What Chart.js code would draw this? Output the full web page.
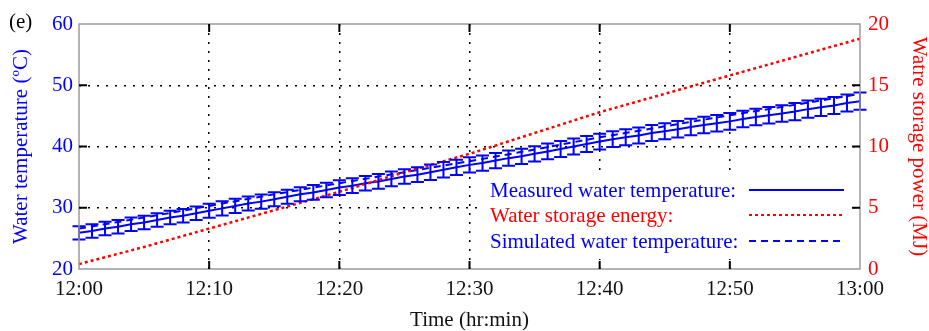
<!DOCTYPE html>
<html>
<head>
<meta charset="utf-8">
<script src="https://cdn.jsdelivr.net/npm/chart.js@4.4.1/dist/chart.umd.min.js"></script>
<style>
  html, body { margin: 0; padding: 0; background: #fff; }
  #wrap { width: 929px; height: 331px; position: relative; }
</style>
</head>
<body>
<div id="wrap"><canvas id="chart1"></canvas></div>
<script>
// minutes after 12:00
const minutes = [0,1,2,3,4,5,6,7,8,9,10,11,12,13,14,15,16,17,18,19,20,21,22,23,24,25,26,27,28,29,30,
  31,32,33,34,35,36,37,38,39,40,41,42,43,44,45,46,47,48,49,50,51,52,53,54,55,56,57,58,59,60];

const measuredTemp = [25.9,26.2,26.6,26.9,27.3,27.6,28.0,28.4,28.7,29.1,29.5,
  29.9,30.3,30.7,31.0,31.4,31.8,32.2,32.5,32.9,33.3,
  33.6,34.0,34.3,34.7,35.1,35.4,35.8,36.2,36.6,37.0,
  37.3,37.7,38.1,38.4,38.8,39.2,39.6,40.0,40.4,40.8,
  41.2,41.5,41.8,42.2,42.5,42.8,43.2,43.5,43.8,44.1,
  44.5,44.8,45.1,45.4,45.7,46.1,46.4,46.7,47.1,47.4];

const measuredErr = [1.1,1.1,1.1,1.1,1.1,1.1,1.1,1.1,1.1,1.1,1.15,
  1.15,1.15,1.15,1.15,1.15,1.15,1.15,1.2,1.2,1.2,
  1.2,1.2,1.2,1.2,1.2,1.2,1.25,1.25,1.25,1.25,
  1.25,1.25,1.25,1.25,1.25,1.3,1.3,1.3,1.3,1.3,
  1.3,1.3,1.3,1.3,1.3,1.35,1.35,1.35,1.35,1.35,
  1.35,1.35,1.35,1.35,1.4,1.4,1.4,1.4,1.4,1.4];

const simMinutes = [0,5,10,15,20,25,30,35,40,45,50,55,60];
const simulatedTemp = [26.6,28.4,30.3,32.2,34.0,35.8,37.6,39.5,41.5,43.3,45.1,46.8,48.6];

const energyMinutes = [0,5,10,15,20,25,30,35,40,45,47,50,55,60];
const storageEnergy = [0.4,1.8,3.3,4.8,6.3,7.9,9.4,11.1,12.8,14.3,14.9,15.8,17.3,18.8];

const xTickLabels = ['12:00','12:10','12:20','12:30','12:40','12:50','13:00'];

const legendItems = [
  { text: 'Measured water temperature:', color: '#0000ff', dash: [] },
  { text: 'Water storage energy:', color: '#ff0000', dash: [3, 3] },
  { text: 'Simulated water temperature:', color: '#0000ff', dash: [7, 5] }
];

const BLUE = '#0000ff';
const RED = '#ff0000';
const FONT = "'Liberation Serif', 'Times New Roman', serif";

const pair = (xs, ys) => xs.map((x, i) => ({ x: x, y: ys[i] }));

const edgeColor = (lo, hi) => (c) =>
  (c.tick && (c.tick.value === lo || c.tick.value === hi)) ? 'rgba(0,0,0,0)' : '#000';

// legend box, error bars, frame, inward ticks, legend, panel tag
const decor = {
  id: 'decor',
  beforeDatasetsDraw(chart) {
    // white legend box hides the grid behind it
    const ctx = chart.ctx;
    ctx.save();
    ctx.fillStyle = '#fff';
    ctx.fillRect(484, 176, 366, 83);
    ctx.restore();
  },
  afterDatasetsDraw(chart) {
    const ctx = chart.ctx;
    const x = chart.scales.x, y = chart.scales.y, y2 = chart.scales.y2;
    const a = chart.chartArea;

    // error bars
    ctx.save();
    ctx.strokeStyle = BLUE;
    ctx.lineWidth = 2;
    minutes.forEach((m, i) => {
      const px = x.getPixelForValue(m);
      const top = y.getPixelForValue(measuredTemp[i] + measuredErr[i]);
      const bot = y.getPixelForValue(measuredTemp[i] - measuredErr[i]);
      const cap = 6.5;
      ctx.beginPath();
      ctx.moveTo(px, top); ctx.lineTo(px, bot);
      ctx.moveTo(px - cap, top); ctx.lineTo(px + cap, top);
      ctx.moveTo(px - cap, bot); ctx.lineTo(px + cap, bot);
      ctx.stroke();
    });
    ctx.restore();

    // frame
    ctx.save();
    ctx.strokeStyle = '#9a9a9a';
    ctx.lineWidth = 1.5;
    ctx.strokeRect(a.left, a.top, a.right - a.left, a.bottom - a.top);

    // inward tick marks
    ctx.strokeStyle = '#000';
    ctx.lineWidth = 2;
    const tl = 8;
    ctx.beginPath();
    x.ticks.forEach(t => {
      if (t.value === 0 || t.value === 60) return;
      const px = x.getPixelForValue(t.value);
      ctx.moveTo(px, a.bottom); ctx.lineTo(px, a.bottom - tl);
      ctx.moveTo(px, a.top); ctx.lineTo(px, a.top + tl);
    });
    y.ticks.forEach(t => {
      if (t.value === 20 || t.value === 60) return;
      const py = y.getPixelForValue(t.value);
      ctx.moveTo(a.left, py); ctx.lineTo(a.left + tl, py);
    });
    y2.ticks.forEach(t => {
      if (t.value === 0 || t.value === 20) return;
      const py = y2.getPixelForValue(t.value);
      ctx.moveTo(a.right, py); ctx.lineTo(a.right - tl, py);
    });
    ctx.stroke();
    ctx.restore();

    // legend
    ctx.save();
    ctx.font = '21px ' + FONT;
    ctx.textBaseline = 'middle';
    const rows = [191, 216, 242];
    legendItems.forEach((item, i) => {
      ctx.fillStyle = item.color;
      ctx.textAlign = 'left';
      ctx.fillText(item.text, 490, rows[i]);
      ctx.strokeStyle = item.color;
      ctx.lineWidth = 2;
      ctx.setLineDash(item.dash);
      ctx.beginPath();
      ctx.moveTo(749, rows[i] - 1);
      ctx.lineTo(844, rows[i] - 1);
      ctx.stroke();
    });
    ctx.setLineDash([]);

    // panel tag
    ctx.fillStyle = '#000';
    ctx.font = '21px ' + FONT;
    ctx.fillText('(e)', 9, 22);
    ctx.restore();
  }
};

const CHART_1 = document.getElementById('chart1');

const config1 = {
  type: 'line',
  data: {
    datasets: [
      {
        label: 'Water storage energy',
        data: pair(energyMinutes, storageEnergy),
        yAxisID: 'y2',
        borderColor: RED,
        borderWidth: 2.5,
        borderDash: [3, 3],
        pointRadius: 0,
        tension: 0,
        clip: false
      },
      {
        label: 'Simulated water temperature',
        data: pair(simMinutes, simulatedTemp),
        yAxisID: 'y',
        borderColor: BLUE,
        borderWidth: 2,
        borderDash: [7, 5],
        pointRadius: 0,
        tension: 0
      },
      {
        label: 'Measured water temperature',
        data: pair(minutes, measuredTemp),
        yAxisID: 'y',
        borderColor: BLUE,
        borderWidth: 2,
        pointRadius: 0,
        tension: 0
      }
    ]
  },
  options: {
    responsive: true,
    maintainAspectRatio: false,
    animation: false,
    layout: { padding: { top: 24, left: 0, right: 0, bottom: 0 } },
    plugins: {
      legend: { display: false },
      tooltip: { enabled: false }
    },
    scales: {
      x: {
        type: 'linear',
        min: 0,
        max: 60,
        afterFit: (s) => { s.height = 62; },
        ticks: {
          stepSize: 10,
          color: '#111',
          font: { family: FONT, size: 21 },
          padding: 8,
          maxRotation: 0,
          callback: (v) => xTickLabels[v / 10]
        },
        grid: { color: edgeColor(0, 60), lineWidth: 1.5, drawTicks: false },
        border: { display: false, dash: [2, 7] },
        title: {
          display: true,
          text: 'Time (hr:min)',
          color: '#111',
          font: { family: FONT, size: 21, lineHeight: 1 },
          padding: { top: 0, bottom: 0 }
        }
      },
      y: {
        position: 'left',
        min: 20,
        max: 60,
        afterFit: (s) => { s.width = 79; },
        ticks: {
          stepSize: 10,
          color: BLUE,
          font: { family: FONT, size: 21 },
          padding: 6
        },
        grid: { color: edgeColor(20, 60), lineWidth: 1.5, drawTicks: false },
        border: { display: false, dash: [2, 7] },
        title: {
          display: true,
          text: 'Water temperature (ºC)',
          color: BLUE,
          font: { family: FONT, size: 21, lineHeight: 1 },
          padding: { top: 11, bottom: 0 }
        }
      },
      y2: {
        position: 'right',
        min: 0,
        max: 20,
        afterFit: (s) => { s.width = 69; },
        ticks: {
          stepSize: 5,
          color: RED,
          font: { family: FONT, size: 21 },
          padding: 8
        },
        grid: { drawOnChartArea: false, drawTicks: false },
        border: { display: false },
        title: {
          display: true,
          text: 'Watre storage power (MJ)',
          color: RED,
          font: { family: FONT, size: 21, lineHeight: 1 },
          padding: { top: 0, bottom: 0 }
        }
      }
    }
  },
  plugins: [decor]
};

const myChart1 = new Chart(CHART_1, config1);
</script>
</body>
</html>
